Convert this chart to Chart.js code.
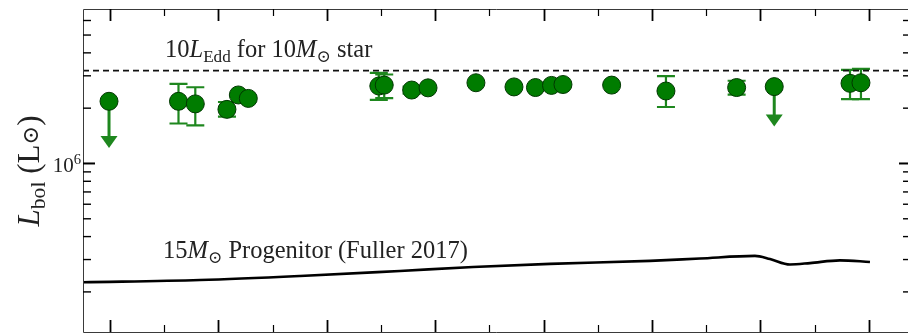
<!DOCTYPE html>
<html>
<head>
<meta charset="utf-8">
<script src="https://cdn.jsdelivr.net/npm/chart.js@4"></script>
<style>
  html, body { margin: 0; padding: 0; background: #fff; overflow: hidden; width: 908px; height: 336px; }
  canvas { display: block; }
</style>
</head>
<body>
<canvas id="lumChart" width="908" height="336"></canvas>
<script>
// axis limits (x in arbitrary epoch units, major tick every 1)
const xMin = -0.249, xMax = 7.362
const yMin = 1.21e5, yMax = 6.93e6

// tick values
const xMajorTicks = [0, 1, 2, 3, 4, 5, 6, 7]
const xMinorTicks = [0.5, 1.5, 2.5, 3.5, 4.5, 5.5, 6.5]
const yMajorTicks = [1e6]
const yMajorLabels = ["10", "6"]
const yMinorTicks = [2e5, 3e5, 4e5, 5e5, 6e5, 7e5, 8e5, 9e5, 2e6, 3e6, 4e6, 5e6, 6e6]

// detections with error bars (null = no visible bar)
const detT = [0.632, 0.787, 1.079, 1.184, 1.276, 2.48, 2.53, 2.783, 2.934, 3.376, 3.727, 3.925, 4.073, 4.179, 4.628, 5.129, 5.781, 6.827, 6.928]
const detL = [2.18e6, 2.11e6, 1.97e6, 2.36e6, 2.26e6, 2.64e6, 2.67e6, 2.51e6, 2.58e6, 2.75e6, 2.61e6, 2.59e6, 2.66e6, 2.69e6, 2.67e6, 2.48e6, 2.59e6, 2.73e6, 2.75e6]
const detHi = [2.71e6, 2.60e6, 2.16e6, null, null, 3.11e6, 3.05e6, 2.62e6, null, null, null, null, null, null, null, 2.99e6, 2.82e6, 3.23e6, 3.27e6]
const detLo = [1.65e6, 1.61e6, 1.80e6, null, null, 2.22e6, 2.27e6, 2.40e6, null, null, null, null, null, null, null, 2.03e6, 2.37e6, 2.24e6, 2.24e6]

// upper limits
const limT = [-0.009, 6.128]
const limL = [2.18e6, 2.62e6]
const limTip = [1.215e6, 1.59e6]

// 10 L_Edd for a 10 Msun star
const eddL = 3.2e6

// 15 Msun progenitor model (Fuller 2017)
const progT = [-0.25, 0.83, 1.753, 2.675, 3.349, 4.059, 4.982, 5.443, 5.95, 6.089, 6.273, 6.458, 6.734, 7.011]
const progL = [2.256e5, 2.32e5, 2.44e5, 2.6e5, 2.73e5, 2.84e5, 2.95e5, 3.04e5, 3.14e5, 3.02e5, 2.82e5, 2.87e5, 2.97e5, 2.91e5]

const green = "rgb(0,124,0)"
const greenEdge = "rgb(0,55,0)"
const greenBar = "rgb(30,135,30)"
const serif = "'Liberation Serif', 'DejaVu Serif', serif"

// text pieces: [text, kind] kind = r | i | sub | sup | sym
function fontFor(k, size) {
  let s = size
  if (k === "sub" || k === "sup") s = size * 0.7
  if (k === "sym") s = size * 0.72
  return (k === "i" ? "italic " : "") + s + "px " + serif
}
function richWidth(ctx, parts, size) {
  let w = 0
  parts.forEach(([t, k]) => {
    ctx.font = fontFor(k, size)
    w += ctx.measureText(t).width
  })
  return w
}
function drawRich(ctx, parts, x, y, size) {
  parts.forEach(([t, k]) => {
    ctx.font = fontFor(k, size)
    let dy = 0
    if (k === "sub") dy = size * 0.2
    if (k === "sup") dy = -size * 0.42
    if (k === "sym") dy = -size * 0.02
    ctx.fillText(t, x, y + dy)
    x += ctx.measureText(t).width
  })
}

const extras = {
  id: "extras",
  beforeDatasetsDraw(chart) {
    const { ctx } = chart
    const xs = chart.scales.x, ys = chart.scales.y
    ctx.save()
    // error bars
    ctx.strokeStyle = greenBar
    ctx.lineWidth = 2.2
    detT.forEach((t, i) => {
      if (detHi[i] === null) return
      const px = xs.getPixelForValue(t)
      const pHi = ys.getPixelForValue(detHi[i])
      const pLo = ys.getPixelForValue(detLo[i])
      ctx.beginPath()
      ctx.moveTo(px, pHi); ctx.lineTo(px, pLo)
      ctx.moveTo(px - 9, pHi); ctx.lineTo(px + 9, pHi)
      ctx.moveTo(px - 9, pLo); ctx.lineTo(px + 9, pLo)
      ctx.stroke()
    })
    // upper-limit arrows
    ctx.fillStyle = greenBar
    ctx.lineWidth = 3
    limT.forEach((t, i) => {
      const px = xs.getPixelForValue(t)
      const p0 = ys.getPixelForValue(limL[i])
      const p1 = ys.getPixelForValue(limTip[i])
      ctx.beginPath()
      ctx.moveTo(px, p0); ctx.lineTo(px, p1 - 10)
      ctx.stroke()
      ctx.beginPath()
      ctx.moveTo(px - 8.5, p1 - 12); ctx.lineTo(px + 8.5, p1 - 12); ctx.lineTo(px, p1)
      ctx.closePath()
      ctx.fill()
    })
    ctx.restore()
  },
  afterDraw(chart) {
    const { ctx, chartArea: a } = chart
    const xs = chart.scales.x, ys = chart.scales.y
    const rightAxis = a.right + 3 // frame sits just past the window edge
    ctx.save()
    // frame
    ctx.strokeStyle = "#3a3a3a"
    ctx.lineWidth = 1
    ctx.beginPath()
    ctx.moveTo(rightAxis, a.top + 0.5); ctx.lineTo(a.left + 0.5, a.top + 0.5)
    ctx.lineTo(a.left + 0.5, a.bottom + 0.5); ctx.lineTo(rightAxis, a.bottom + 0.5)
    ctx.stroke()
    // ticks
    ctx.strokeStyle = "#000"
    const tick = (x1, y1, x2, y2, w) => {
      ctx.lineWidth = w
      ctx.beginPath(); ctx.moveTo(x1, y1); ctx.lineTo(x2, y2); ctx.stroke()
    }
    xMajorTicks.forEach(v => {
      const px = Math.round(xs.getPixelForValue(v)) + 0.5
      tick(px, a.top, px, a.top + 12, 1.8)
      tick(px, a.bottom, px, a.bottom - 12, 1.8)
    })
    xMinorTicks.forEach(v => {
      const px = Math.round(xs.getPixelForValue(v)) + 0.5
      tick(px, a.top, px, a.top + 7, 1.2)
      tick(px, a.bottom, px, a.bottom - 7, 1.2)
    })
    yMajorTicks.forEach(v => {
      const py = ys.getPixelForValue(v)
      tick(a.left, py, a.left + 12, py, 2)
      tick(rightAxis, py, rightAxis - 12, py, 2)
    })
    yMinorTicks.forEach(v => {
      const py = ys.getPixelForValue(v)
      tick(a.left, py, a.left + 8, py, 1.4)
      tick(rightAxis, py, rightAxis - 8, py, 1.4)
    })

    // y tick labels
    ctx.fillStyle = "#222"
    ctx.textBaseline = "alphabetic"
    ctx.textAlign = "left"
    yMajorTicks.forEach(v => {
      const py = ys.getPixelForValue(v)
      const parts = [[yMajorLabels[0], "r"], [yMajorLabels[1], "sup"]]
      const w = richWidth(ctx, parts, 21)
      drawRich(ctx, parts, a.left - 2 - w, py + 9, 21)
    })

    // y axis title
    const title = [["L", "i"], ["bol", "sub"], [" (L", "r"], ["\u2299", "sym"], [")", "r"]]
    const tw = richWidth(ctx, title, 31)
    ctx.save()
    ctx.translate(39, 171)
    ctx.rotate(-Math.PI / 2)
    drawRich(ctx, title, -tw / 2, 0, 31)
    ctx.restore()

    // annotations
    const eddY = ys.getPixelForValue(eddL)
    drawRich(ctx, [["10", "r"], ["L", "i"], ["Edd", "sub"], [" for 10", "r"], ["M", "i"], ["\u2299", "sub"], [" star", "r"]], 165, eddY - 14, 24.5)
    const progY = ys.getPixelForValue(progL[0])
    drawRich(ctx, [["15", "r"], ["M", "i"], ["\u2299", "sub"], [" Progenitor (Fuller 2017)", "r"]], 163, progY - 24, 24.5)
    ctx.restore()
  }
}

new Chart(document.getElementById("lumChart"), {
  type: "scatter",
  data: {
    datasets: [
      {
        label: "10 L_Edd",
        type: "line",
        data: [{ x: xMin, y: eddL }, { x: xMax, y: eddL }],
        borderColor: "#111",
        borderWidth: 1.6,
        borderDash: [6, 4],
        pointRadius: 0,
        order: 5
      },
      {
        label: "Progenitor",
        type: "line",
        data: progT.map((t, i) => ({ x: t, y: progL[i] })),
        borderColor: "#000",
        borderWidth: 2.6,
        pointRadius: 0,
        cubicInterpolationMode: "monotone",
        order: 4
      },
      {
        label: "Upper limits",
        data: limT.map((t, i) => ({ x: t, y: limL[i] })),
        backgroundColor: green,
        borderColor: greenEdge,
        borderWidth: 1,
        pointRadius: 9,
        order: 2
      },
      {
        label: "Detections",
        data: detT.map((t, i) => ({ x: t, y: detL[i] })),
        backgroundColor: green,
        borderColor: greenEdge,
        borderWidth: 1,
        pointRadius: 9,
        order: 1
      }
    ]
  },
  options: {
    responsive: false,
    animation: false,
    devicePixelRatio: 1,
    layout: { autoPadding: false, padding: { left: 83, top: 9, right: 0, bottom: 4 } },
    scales: {
      x: { type: "linear", min: xMin, max: xMax, display: false },
      y: { type: "logarithmic", min: yMin, max: yMax, display: false }
    },
    plugins: {
      legend: { display: false },
      tooltip: { enabled: false }
    }
  },
  plugins: [extras]
})
</script>
</body>
</html>
